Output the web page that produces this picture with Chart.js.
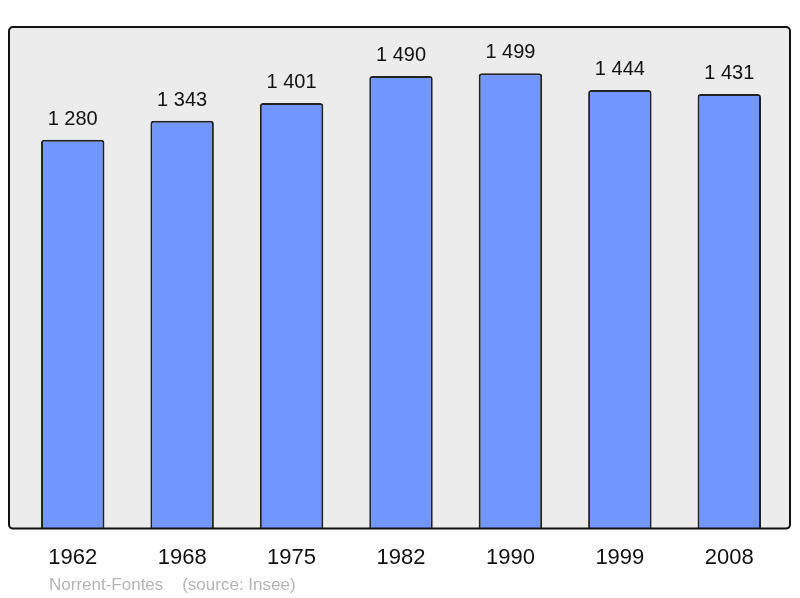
<!DOCTYPE html>
<html>
<head>
<meta charset="utf-8">
<script src="https://cdn.jsdelivr.net/npm/chart.js@4"></script>
<style>
  html, body { margin: 0; padding: 0; background: #fff; }
  #wrap { width: 800px; height: 598px; }
</style>
</head>
<body>
<div id="wrap"><canvas id="popChart" width="800" height="598"></canvas></div>
<script>
const years = ['1962', '1968', '1975', '1982', '1990', '1999', '2008'];
const population = [1280, 1343, 1401, 1490, 1499, 1444, 1431];
const sourceText = 'Norrent-Fontes    (source: Insee)';

// gray rounded panel behind the bars
const panelPlugin = {
  id: 'panel',
  beforeDatasetsDraw(chart) {
    const { ctx, chartArea } = chart;
    const x0 = chartArea.left - 9, x1 = chartArea.right + 6;
    const y0 = chartArea.top - 1, y1 = chartArea.bottom;
    ctx.save();
    ctx.beginPath();
    ctx.roundRect(x0, y0, x1 - x0, y1 - y0, 4);
    ctx.fillStyle = '#ececec';
    ctx.fill();
    ctx.restore();
  },
  afterDatasetsDraw(chart) {
    const { ctx, chartArea } = chart;
    const x0 = chartArea.left - 9, x1 = chartArea.right + 6;
    const y0 = chartArea.top - 1, y1 = chartArea.bottom;
    ctx.save();
    ctx.beginPath();
    ctx.roundRect(x0, y0, x1 - x0, y1 - y0, 4);
    ctx.lineWidth = 2;
    ctx.strokeStyle = '#111';
    ctx.stroke();

    // values above bars
    ctx.font = '20px "Liberation Sans", Arial, sans-serif';
    ctx.fillStyle = '#111';
    ctx.textAlign = 'center';
    ctx.textBaseline = 'alphabetic';
    chart.getDatasetMeta(0).data.forEach((bar, i) => {
      const v = population[i];
      const txt = String(v).replace(/\B(?=(\d{3})+(?!\d))/g, ' ');
      ctx.fillText(txt, bar.x, bar.y - 15);
    });

    // source line
    ctx.font = '17px "Liberation Sans", Arial, sans-serif';
    ctx.fillStyle = '#b4b4b4';
    ctx.textAlign = 'left';
    ctx.fillText(sourceText, 49, 590);
    ctx.restore();
  }
};

new Chart(document.getElementById('popChart'), {
  type: 'bar',
  data: {
    labels: years,
    datasets: [{
      data: population,
      backgroundColor: '#7196ff',
      borderColor: '#222',
      borderWidth: 2,
      borderSkipped: 'bottom',
      borderRadius: { topLeft: 3, topRight: 3 },
      barPercentage: 0.58,
      categoryPercentage: 1
    }]
  },
  options: {
    responsive: false,
    animation: false,
    layout: { padding: { left: 18, right: 16, top: 28, bottom: 19 } },
    plugins: { legend: { display: false }, tooltip: { enabled: false } },
    scales: {
      x: {
        grid: { display: false },
        border: { display: false },
        ticks: {
          padding: 8,
          color: '#111',
          font: { family: '"Liberation Sans", Arial, sans-serif', size: 22 }
        }
      },
      y: {
        display: false,
        min: 0,
        max: 1648
      }
    }
  },
  plugins: [panelPlugin]
});
</script>
</body>
</html>
